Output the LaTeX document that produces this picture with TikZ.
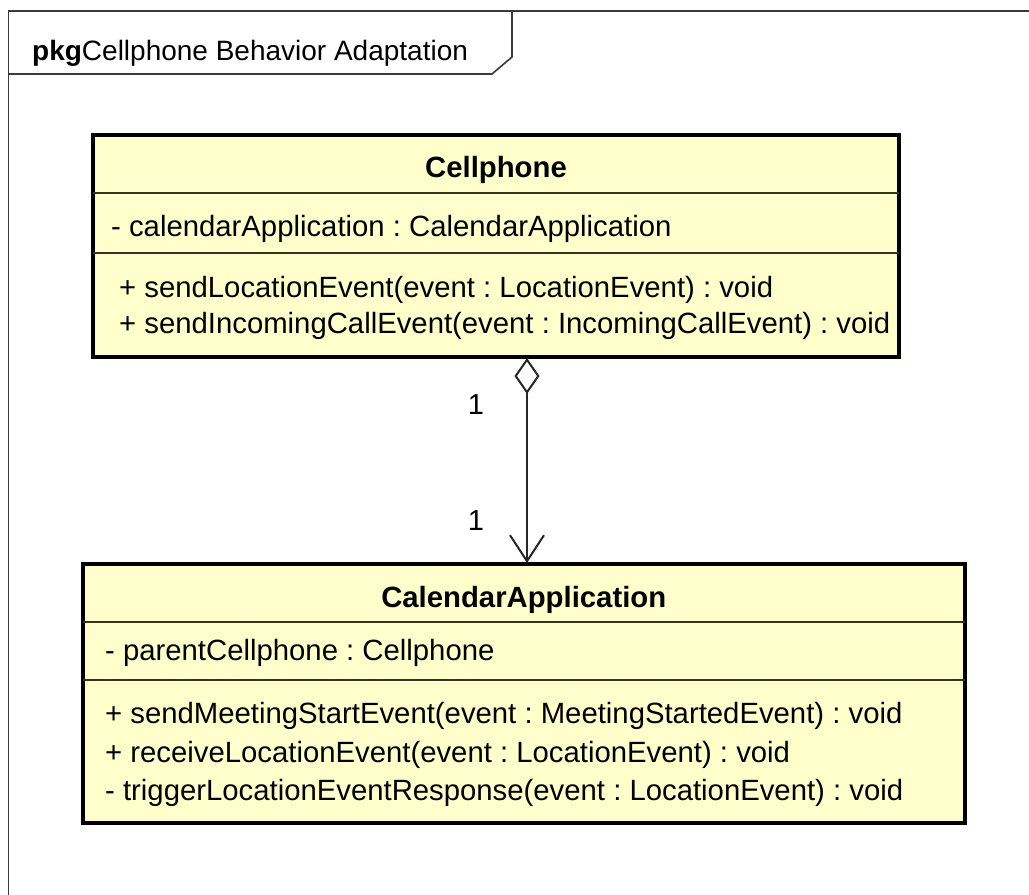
\documentclass[tikz,border=0pt]{standalone}
\usepackage{fontspec}
\setmainfont{Liberation Sans}
\usetikzlibrary{arrows.meta}
\definecolor{classfill}{HTML}{FFFFCC}
\definecolor{sepline}{HTML}{33331F}
\definecolor{framecol}{HTML}{3A3A3A}
\frenchspacing
\begin{document}
\begin{tikzpicture}[x=1pt,y=-1pt,
  classbox/.style={draw=black, fill=classfill, line width=4pt, inner sep=0pt, outer sep=0pt, rectangle},
  sep/.style={draw=sepline, line width=1.8pt},
  txt/.style={anchor=base west, inner sep=0pt, font=\fontsize{29.3}{34}\selectfont},
  title/.style={anchor=base, inner sep=0pt, font=\fontsize{29.3}{34}\selectfont\bfseries},
  mult/.style={inner sep=0pt, font=\fontsize{29}{34}\selectfont},
  conn/.style={draw=black!85, line width=2pt}
]
\useasboundingbox (0,0) rectangle (1029,895);
\clip (0,0) rectangle (1029,895);
\fill[white] (0,0) rectangle (1029,895);
% package frame
\draw[framecol, line width=1.6pt] (8.5,905) -- (8.5,11) -- (1040,11);
\draw[framecol, line width=1.6pt] (8.5,74) -- (492,74) -- (512,57) -- (512,11);
\node[anchor=base west, inner sep=0pt, font=\fontsize{28}{32}\selectfont] (pkgtitle) at (32,60) {\textbf{pkg}Cellphone Behavior Adaptation};
% Cellphone class
\node[classbox, minimum width=806pt, minimum height=222pt] (cell) at (496,246) {};
\draw[sep] (cell.west |- 0,193) -- (cell.east |- 0,193);
\draw[sep] (cell.west |- 0,253) -- (cell.east |- 0,253);
\node[title] (cellname) at (496,177) {Cellphone};
\node[txt] (cellattr) at (111,236) {- calendarApplication : CalendarApplication};
\node[txt] (cellop1) at (119,297) {+ sendLocationEvent(event : LocationEvent) : void};
\node[txt] (cellop2) at (119,333) {+ sendIncomingCallEvent(event : IncomingCallEvent) : void};
% CalendarApplication class
\node[classbox, minimum width=882.5pt, minimum height=259pt] (cal) at (523.75,693.5) {};
\draw[sep] (cal.west |- 0,622) -- (cal.east |- 0,622);
\draw[sep] (cal.west |- 0,680) -- (cal.east |- 0,680);
\node[title] (calname) at (523.75,607) {CalendarApplication};
\node[txt] (calattr) at (105,660) {- parentCellphone : Cellphone};
\node[txt] (calop1) at (105,723) {+ sendMeetingStartEvent(event : MeetingStartedEvent) : void};
\node[txt] (calop2) at (105,762) {+ receiveLocationEvent(event : LocationEvent) : void};
\node[txt] (calop3) at (105,800) {- triggerLocationEventResponse(event : LocationEvent) : void};
% aggregation
\coordinate (axis) at (527,460);
\draw[conn, {Diamond[open, length=36pt, width=25pt, line width=2pt]}-{Straight Barb[length=26pt, width=34pt, line width=2pt]}]
  ([yshift=-1pt]cell.south -| axis) -- ([yshift=1pt]cal.north -| axis);
\node[mult] (m1) at (476,405) {1};
\node[mult] (m2) at (476,521) {1};
\end{tikzpicture}
\end{document}
